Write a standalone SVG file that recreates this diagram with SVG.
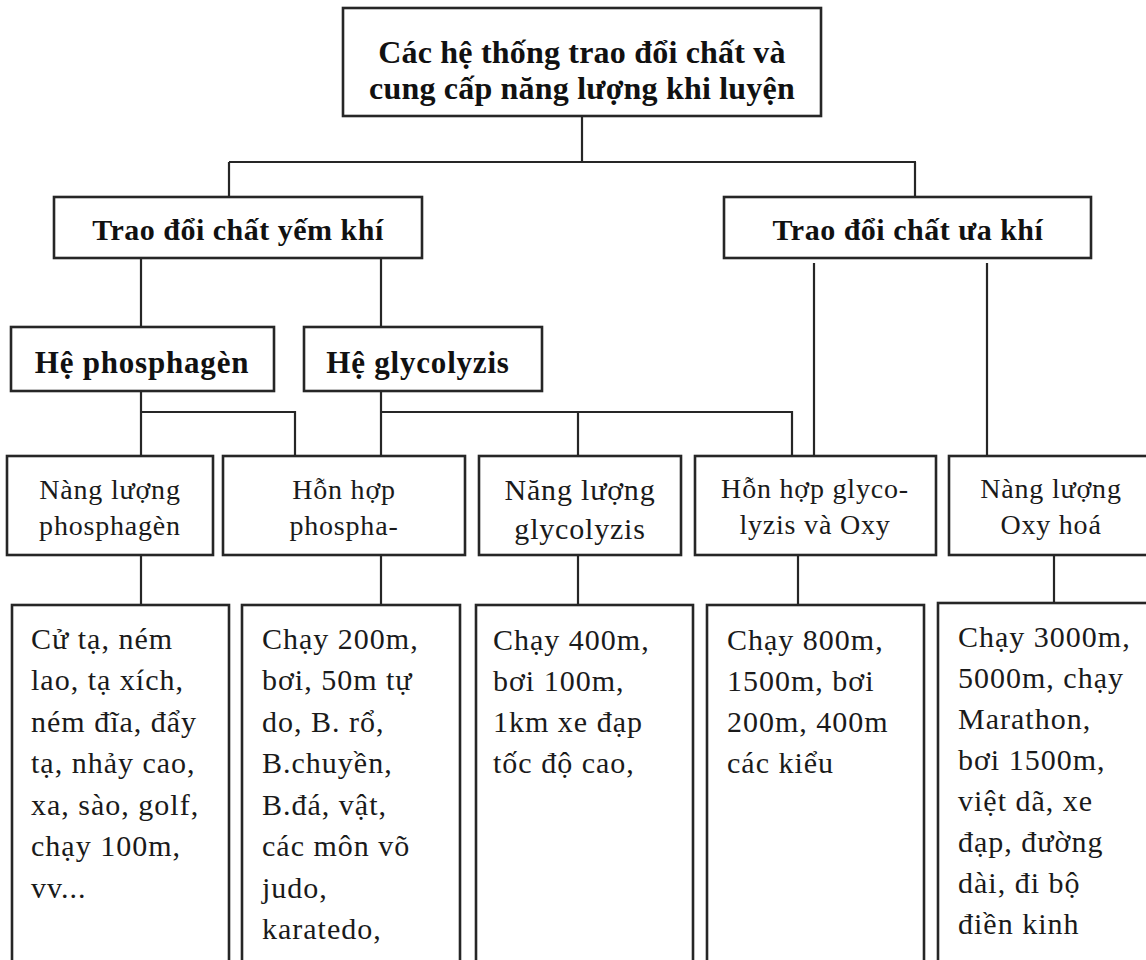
<svg xmlns="http://www.w3.org/2000/svg" width="1146" height="960" viewBox="0 0 1146 960">
  <style>
    .box { fill: #ffffff; stroke: #262626; stroke-width: 2.6; }
    .wire { fill: none; stroke: #262626; stroke-width: 2.2; }
    .title { font-family: "Liberation Serif", "Times New Roman", serif; font-weight: bold; font-size: 32px; fill: #111; text-anchor: middle; letter-spacing: 0.2px; }
    .group { font-family: "Liberation Serif", "Times New Roman", serif; font-weight: bold; font-size: 30px; fill: #111; text-anchor: middle; letter-spacing: 0.5px; }
    .system { font-family: "Liberation Serif", "Times New Roman", serif; font-weight: bold; font-size: 31px; fill: #111; text-anchor: middle; letter-spacing: 0.8px; }
    .energy { font-family: "Liberation Serif", "Times New Roman", serif; font-size: 28px; fill: #1a1a1a; text-anchor: middle; letter-spacing: 0.8px; }
    .energy-lg { font-family: "Liberation Serif", "Times New Roman", serif; font-size: 30px; fill: #1a1a1a; text-anchor: middle; letter-spacing: 0.8px; }
    .sport { font-family: "Liberation Serif", "Times New Roman", serif; font-size: 30px; fill: #1a1a1a; letter-spacing: 1px; }
  </style>

  <rect width="1146" height="960" fill="#ffffff"/>

  <!-- connectors -->
  <g id="connectors" class="wire">
    <path d="M582 116 V162 M229 162 H916 M229 162 V197 M915 162 V197"/>
    <path d="M141 258 V327 M381 258 V327"/>
    <path d="M814 263 V456 M987 263 V456"/>
    <path d="M141 391 V456 M141 412 H295 V456"/>
    <path d="M381 391 V456 M381 412 H792 V456 M578 412 V456"/>
    <path d="M141 555 V605 M381 555 V605 M578 555 V605 M798 555 V605 M1054 555 V605"/>
  </g>

  <!-- root -->
  <g id="root">
    <rect class="box" x="343" y="8" width="478" height="108"/>
    <text class="title" x="582" y="63">Các hệ thống trao đổi chất và</text>
    <text class="title" x="582" y="99">cung cấp năng lượng khi luyện</text>
  </g>

  <!-- metabolism types -->
  <g id="anaerobic">
    <rect class="box" x="54" y="197" width="368" height="61"/>
    <text class="group" x="238" y="240">Trao đổi chất yếm khí</text>
  </g>
  <g id="aerobic">
    <rect class="box" x="724" y="197" width="367" height="61"/>
    <text class="group" x="908" y="240">Trao đổi chất ưa khí</text>
  </g>

  <!-- anaerobic systems -->
  <g id="phosphagen-system">
    <rect class="box" x="11" y="327" width="263" height="64"/>
    <text class="system" x="142" y="373">Hệ phosphagèn</text>
  </g>
  <g id="glycolysis-system">
    <rect class="box" x="304" y="327" width="238" height="64"/>
    <text class="system" x="418" y="373">Hệ glycolyzis</text>
  </g>

  <!-- energy sources -->
  <g id="energy-phosphagen">
    <rect class="box" x="7" y="456" width="206" height="99"/>
    <text class="energy" x="110" y="499">Nàng lượng</text>
    <text class="energy" x="110" y="535">phosphagèn</text>
  </g>
  <g id="energy-mixed-phospha">
    <rect class="box" x="223" y="456" width="242" height="99"/>
    <text class="energy" x="344" y="499">Hỗn hợp</text>
    <text class="energy" x="344" y="535">phospha-</text>
  </g>
  <g id="energy-glycolysis">
    <rect class="box" x="479" y="456" width="202" height="99"/>
    <text class="energy-lg" x="580" y="500">Năng lượng</text>
    <text class="energy-lg" x="580" y="539">glycolyzis</text>
  </g>
  <g id="energy-mixed-oxy">
    <rect class="box" x="695" y="456" width="241" height="99"/>
    <text class="energy" x="815" y="498">Hỗn hợp glyco-</text>
    <text class="energy" x="815" y="534">lyzis và Oxy</text>
  </g>
  <g id="energy-oxidative">
    <rect class="box" x="949" y="456" width="205" height="99"/>
    <text class="energy" x="1051" y="498">Nàng lượng</text>
    <text class="energy" x="1051" y="534">Oxy hoá</text>
  </g>

  <!-- sports lists -->
  <g id="sports-phosphagen">
    <rect class="box" x="12" y="605" width="217" height="370"/>
    <text class="sport" x="31" y="649">Cử tạ, ném</text>
    <text class="sport" x="31" y="690">lao, tạ xích,</text>
    <text class="sport" x="31" y="732">ném đĩa, đẩy</text>
    <text class="sport" x="31" y="773">tạ, nhảy cao,</text>
    <text class="sport" x="31" y="815">xa, sào, golf,</text>
    <text class="sport" x="31" y="856">chạy 100m,</text>
    <text class="sport" x="31" y="898">vv...</text>
  </g>
  <g id="sports-mixed-phospha">
    <rect class="box" x="242" y="605" width="218" height="370"/>
    <text class="sport" x="262" y="649">Chạy 200m,</text>
    <text class="sport" x="262" y="690">bơi, 50m tự</text>
    <text class="sport" x="262" y="732">do, B. rổ,</text>
    <text class="sport" x="262" y="773">B.chuyền,</text>
    <text class="sport" x="262" y="815">B.đá, vật,</text>
    <text class="sport" x="262" y="856">các môn võ</text>
    <text class="sport" x="262" y="898">judo,</text>
    <text class="sport" x="262" y="939">karatedo,</text>
  </g>
  <g id="sports-glycolysis">
    <rect class="box" x="476" y="605" width="217" height="370"/>
    <text class="sport" x="493" y="650">Chạy 400m,</text>
    <text class="sport" x="493" y="691">bơi 100m,</text>
    <text class="sport" x="493" y="732">1km xe đạp</text>
    <text class="sport" x="493" y="773">tốc độ cao,</text>
  </g>
  <g id="sports-mixed-oxy">
    <rect class="box" x="707" y="605" width="217" height="370"/>
    <text class="sport" x="727" y="650">Chạy 800m,</text>
    <text class="sport" x="727" y="691">1500m, bơi</text>
    <text class="sport" x="727" y="732">200m, 400m</text>
    <text class="sport" x="727" y="773">các kiểu</text>
  </g>
  <g id="sports-oxidative">
    <rect class="box" x="938" y="603" width="232" height="372"/>
    <text class="sport" x="958" y="647">Chạy 3000m,</text>
    <text class="sport" x="958" y="688">5000m, chạy</text>
    <text class="sport" x="958" y="729">Marathon,</text>
    <text class="sport" x="958" y="770">bơi 1500m,</text>
    <text class="sport" x="958" y="811">việt dã, xe</text>
    <text class="sport" x="958" y="852">đạp, đường</text>
    <text class="sport" x="958" y="893">dài, đi bộ</text>
    <text class="sport" x="958" y="934">điền kinh</text>
  </g>
</svg>
